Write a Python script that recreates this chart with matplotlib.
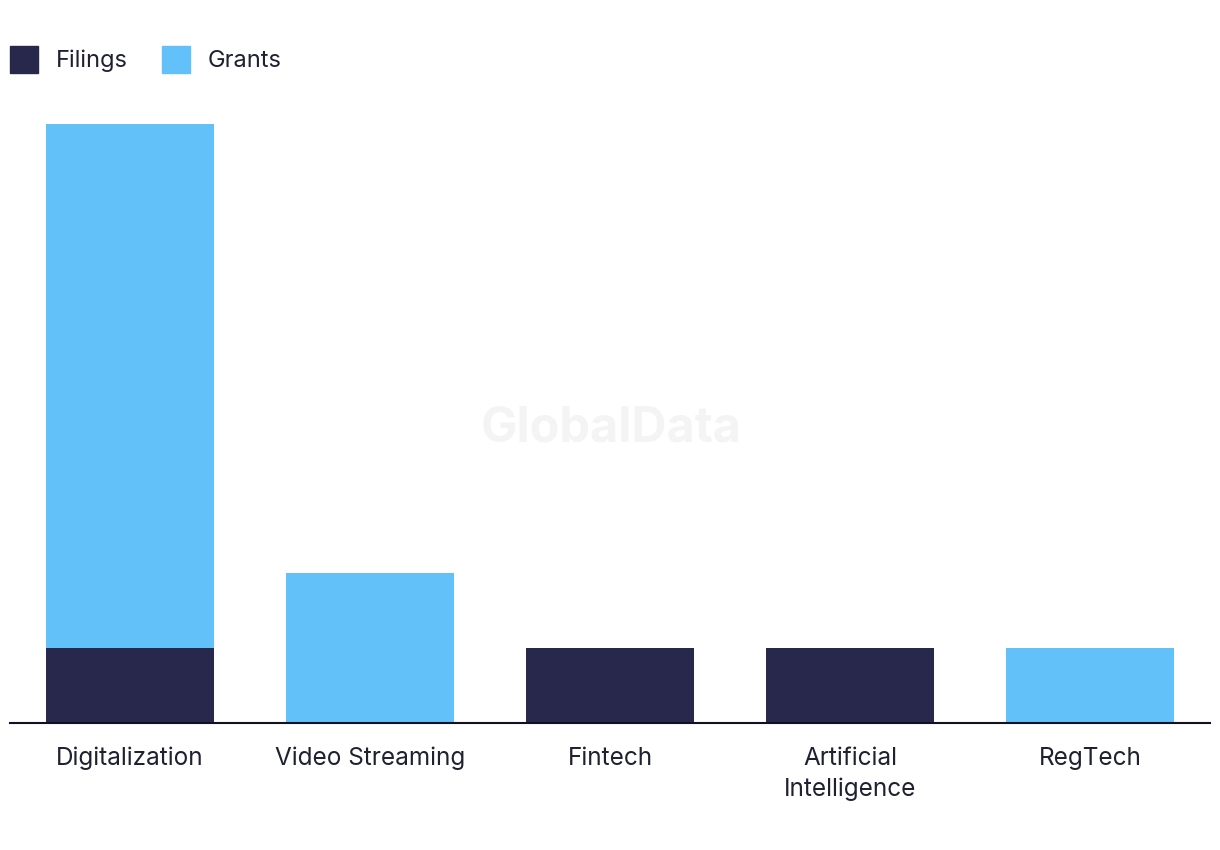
import matplotlib
matplotlib.use("Agg")
import matplotlib.pyplot as plt
from matplotlib.patches import Patch

# --- dados ---
categories = ["Digitalization", "Video Streaming", "Fintech", "Artificial\nIntelligence", "RegTech"]
filings = [1, 0, 1, 1, 0]
grants = [7, 2, 0, 0, 1]

NAVY = "#27284c"
BLUE = "#62c1f8"
TEXT = "#1f2030"

plt.rcParams['font.family'] = ['Inter', 'DejaVu Sans']

fig = plt.figure(figsize=(12.2, 8.5), dpi=100)
ax = fig.add_axes([10 / 1220, 127 / 850, 1200 / 1220, 599 / 850])

x = range(len(categories))
ax.bar(x, filings, width=0.7, color=NAVY, zorder=2)
ax.bar(x, grants, width=0.7, bottom=filings, color=BLUE, zorder=2)

ax.set_xlim(-0.5, 4.5)
ax.set_ylim(0, 8)
ax.set_xticks(list(x))
ax.set_xticklabels(categories, fontsize=17.5, color=TEXT, linespacing=1.4)
ax.tick_params(axis='x', length=0, pad=17)
ax.set_yticks([])

for s in ['top', 'right', 'left']:
    ax.spines[s].set_visible(False)
ax.spines['bottom'].set_color("#111122")
ax.spines['bottom'].set_linewidth(1.5)
ax.spines['bottom'].set_zorder(3)

# marca d'água
fig.text(611 / 1220, 1 - 428 / 850, "GlobalData", fontsize=35, fontweight='bold',
         color="#f4f4f4", ha='center', va='center', zorder=0)

handles = [Patch(color=NAVY, label="Filings"), Patch(color=BLUE, label="Grants")]
fig.legend(handles=handles, loc='upper left', bbox_to_anchor=(-7 / 1220, 1 - 29 / 850),
           ncol=2, frameon=False, fontsize=17, handlelength=1.2, handleheight=1.4,
           handletextpad=0.75, columnspacing=1.45, labelcolor=TEXT, borderaxespad=0.3)

fig.savefig("out.png", dpi=100)
